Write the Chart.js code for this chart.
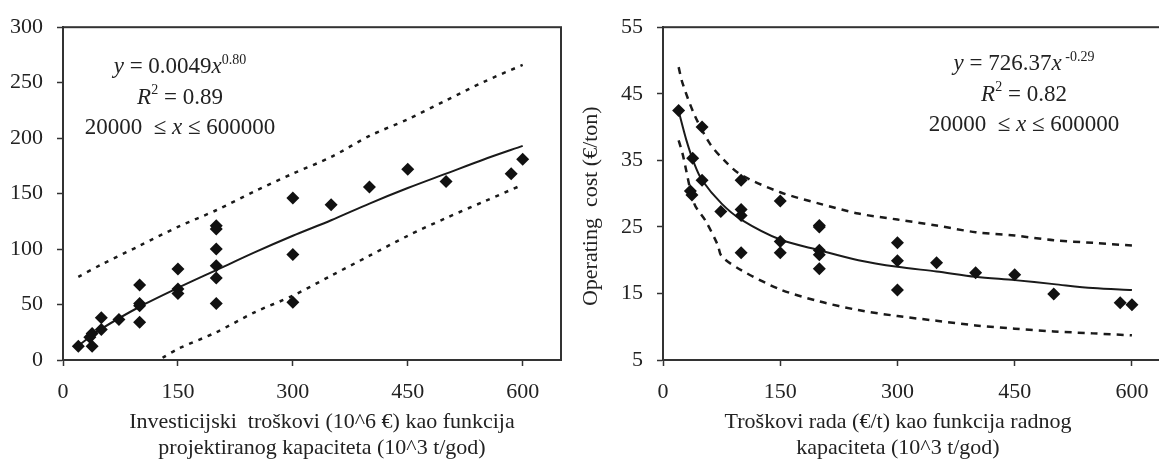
<!DOCTYPE html>
<html>
<head>
<meta charset="utf-8">
<script src="https://cdn.jsdelivr.net/npm/chart.js@4.4.1/dist/chart.umd.min.js"></script>
<style>
  html, body { margin: 0; padding: 0; background: #fff; overflow: hidden; }
  #wrap { position: relative; width: 1159px; height: 463px; }
  #invest { position: absolute; left: 0; top: 0; }
  #oper { position: absolute; left: 580px; top: 0; }
</style>
</head>
<body>
<div id="wrap">
  <canvas id="invest" width="580" height="463"></canvas>
  <canvas id="oper" width="600" height="463"></canvas>
</div>
<script>
// Left chart: investment cost vs design capacity (10^3 t/god)
var investCap = [20, 38, 35, 38, 50, 50, 73, 100, 100, 100, 100, 150, 150, 150,
  200, 200, 200, 200, 200, 200, 300, 300, 300, 350, 400, 450, 500, 585, 600];
var investCost = [12.5, 12.5, 20.5, 24, 38, 27.6, 36.5, 67.5, 51, 49, 34, 82, 64, 60,
  121, 118, 100, 85, 74, 51, 146, 95, 52, 140, 156, 172, 161, 168, 181];

var investFitX = [20, 50, 100, 150, 200, 250, 300, 350, 400, 450, 500, 550, 600];
var investFitY = [13, 28, 48, 65, 81, 97, 112, 126, 141, 155, 168, 181, 193];
var investUpX = [20, 50, 100, 150, 200, 250, 300, 350, 400, 450, 500, 550, 600];
var investUpY = [75, 86, 103, 120, 135, 152, 168, 183, 202, 217, 234, 251, 266];
var investLowX = [130, 150, 200, 250, 300, 350, 400, 450, 500, 550, 600];
var investLowY = [2, 10, 25, 43, 58, 76, 94, 112, 128, 143, 158];

// Right chart: operating cost vs working capacity
var operCap = [20, 38, 35, 37, 50, 50, 74, 100, 100, 100, 100, 150, 150, 150,
  200, 200, 200, 200, 200, 300, 300, 300, 350, 400, 450, 500, 585, 600];
var operCost = [42.5, 35.3, 30.4, 29.8, 40.0, 32.0, 27.3, 32.0, 27.6, 26.7, 21.1, 28.9, 22.8, 21.1,
  25.2, 21.5, 20.8, 18.7, 25.0, 22.6, 19.9, 15.5, 19.6, 18.1, 17.8, 14.9, 13.6, 13.3];

var operFitX = [20, 30, 40, 50, 75, 100, 150, 200, 250, 300, 350, 400, 450, 500, 550, 600];
var operFitY = [42.4, 38, 34.5, 32, 28.5, 26.1, 23.1, 21.5, 20.0, 19.0, 18.3, 17.5, 17.0, 16.4, 15.8, 15.5];
var operUpX = [20, 25, 40, 60, 80, 100, 150, 200, 250, 300, 350, 400, 450, 500, 550, 600];
var operUpY = [49, 46.6, 41.9, 37.5, 34.8, 32.8, 30.2, 28.5, 27.0, 26.1, 25.2, 24.2, 23.7, 23.0, 22.6, 22.2];
var operLowX = [20, 25, 40, 55, 70, 75, 100, 150, 200, 250, 300, 350, 400, 450, 500, 550, 600];
var operLowY = [38, 36, 28.5, 25.8, 22.3, 20.6, 18.5, 15.6, 13.8, 12.5, 11.6, 10.9, 10.2, 9.7, 9.3, 9.0, 8.7];

var xTickValues = [0, 150, 300, 450, 600];

var serif = "'Liberation Serif', 'Times New Roman', serif";
var ink = '#222';

function pts(xs, ys) {
  return xs.map(function(x, i) { return {x: x, y: ys[i]}; });
}

// box around the plot, the regression text and the axis titles
var frameBox = {
  id: 'frameBox',
  afterDraw: function(chart, args, opts) {
    var ctx = chart.ctx, a = chart.chartArea;
    ctx.save();
    ctx.strokeStyle = '#333';
    ctx.lineWidth = 2;
    ctx.strokeRect(a.left, a.top, a.right - a.left, a.bottom - a.top);

    var size = 23;
    ctx.fillStyle = ink;
    ctx.textBaseline = 'alphabetic';
    opts.lines.forEach(function(line, li) {
      var fonts = line.map(function(s) {
        var sz = s.sup ? Math.round(size * 0.62) : size;
        return (s.it ? 'italic ' : '') + sz + 'px ' + serif;
      });
      var w = 0;
      line.forEach(function(s, i) { ctx.font = fonts[i]; w += ctx.measureText(s.t).width; });
      var x = a.left + opts.cx - w / 2;
      var y = a.top + opts.top + li * 30.5;
      line.forEach(function(s, i) {
        ctx.font = fonts[i];
        ctx.fillText(s.t, x, s.sup ? y - size * 0.42 : y);
        x += ctx.measureText(s.t).width;
      });
    });

    // x axis title, two lines under the tick labels
    ctx.font = '22px ' + serif;
    ctx.textAlign = 'center';
    ctx.textBaseline = 'middle';
    opts.xTitle.forEach(function(t, i) {
      ctx.fillText(t, a.left + opts.xTitleCx, a.bottom + 62 + i * 26);
    });
    if (opts.yTitle) {
      ctx.translate(11, a.top + opts.yTitleCy);
      ctx.rotate(-Math.PI / 2);
      ctx.fillText(opts.yTitle, 0, 0);
    }
    ctx.restore();
  }
};

function xScale(max) {
  return {
    type: 'linear', min: 0, max: max,
    afterBuildTicks: function(s) { s.ticks = xTickValues.map(function(v) { return {value: v}; }); },
    ticks: { font: {family: serif, size: 22}, color: ink, padding: 13, maxRotation: 0 },
    grid: { drawOnChartArea: false, drawTicks: true, tickLength: 6, color: '#333', tickWidth: 1.5 },
    border: { color: '#333', width: 2 },
    afterFit: function(s) { s.height = 103; }
  };
}

function yScale(min, max, step, width) {
  return {
    min: min, max: max,
    ticks: { stepSize: step, font: {family: serif, size: 22}, color: ink, padding: 14 },
    grid: { drawOnChartArea: false, drawTicks: true, tickLength: 6, color: '#333', tickWidth: 1.5 },
    border: { color: '#333', width: 2 },
    afterFit: function(s) { s.width = width; }
  };
}

function sets(px, py, fx, fy, ux, uy, lx, ly, dash) {
  return [{
    data: pts(px, py), showLine: false, pointStyle: 'rectRot', pointRadius: 6.5,
    backgroundColor: '#111', borderColor: '#111', borderWidth: 0
  }, {
    data: pts(fx, fy), showLine: true, pointRadius: 0, borderColor: '#1a1a1a', borderWidth: 2, tension: 0.3
  }, {
    data: pts(ux, uy), showLine: true, pointRadius: 0, borderColor: '#1a1a1a', borderWidth: 2.5, borderDash: dash, tension: 0.3
  }, {
    data: pts(lx, ly), showLine: true, pointRadius: 0, borderColor: '#1a1a1a', borderWidth: 2.5, borderDash: dash, tension: 0.3
  }];
}

var common = { responsive: false, animation: false, devicePixelRatio: 1 };

new Chart(document.getElementById('invest'), {
  type: 'scatter',
  data: { datasets: sets(investCap, investCost, investFitX, investFitY,
    investUpX, investUpY, investLowX, investLowY, [4, 6]) },
  options: Object.assign({}, common, {
    layout: { padding: {top: 23, right: 19, left: 0, bottom: 0} },
    scales: { x: xScale(650), y: yScale(0, 300, 50, 63) },
    plugins: {
      legend: {display: false}, tooltip: {enabled: false},
      frameBox: {
        cx: 117, top: 46,
        lines: [
          [{t: 'y', it: true}, {t: ' = 0.0049'}, {t: 'x', it: true}, {t: '0.80', sup: true}],
          [{t: 'R', it: true}, {t: '2', sup: true}, {t: ' = 0.89'}],
          [{t: '20000  ≤ '}, {t: 'x', it: true}, {t: ' ≤ 600000'}]
        ],
        xTitle: ['Investicijski  troškovi (10^6 €) kao funkcija', 'projektiranog kapaciteta (10^3 t/god)'],
        xTitleCx: 259
      }
    }
  }),
  plugins: [frameBox]
});

new Chart(document.getElementById('oper'), {
  type: 'scatter',
  data: { datasets: sets(operCap, operCost, operFitX, operFitY,
    operUpX, operUpY, operLowX, operLowY, [7, 6]) },
  options: Object.assign({}, common, {
    layout: { padding: {top: 21, right: 9, left: 0, bottom: 0} },
    scales: { x: xScale(650), y: yScale(5, 55, 10, 83) },
    plugins: {
      legend: {display: false}, tooltip: {enabled: false},
      frameBox: {
        cx: 361, top: 43,
        lines: [
          [{t: 'y', it: true}, {t: ' = 726.37'}, {t: 'x', it: true}, {t: ' -0.29', sup: true}],
          [{t: 'R', it: true}, {t: '2', sup: true}, {t: ' = 0.82'}],
          [{t: '20000  ≤ '}, {t: 'x', it: true}, {t: ' ≤ 600000'}]
        ],
        xTitle: ['Troškovi rada (€/t) kao funkcija radnog', 'kapaciteta (10^3 t/god)'],
        xTitleCx: 235,
        yTitle: 'Operating  cost (€/ton)',
        yTitleCy: 179
      }
    }
  }),
  plugins: [frameBox]
});
</script>
</body>
</html>
